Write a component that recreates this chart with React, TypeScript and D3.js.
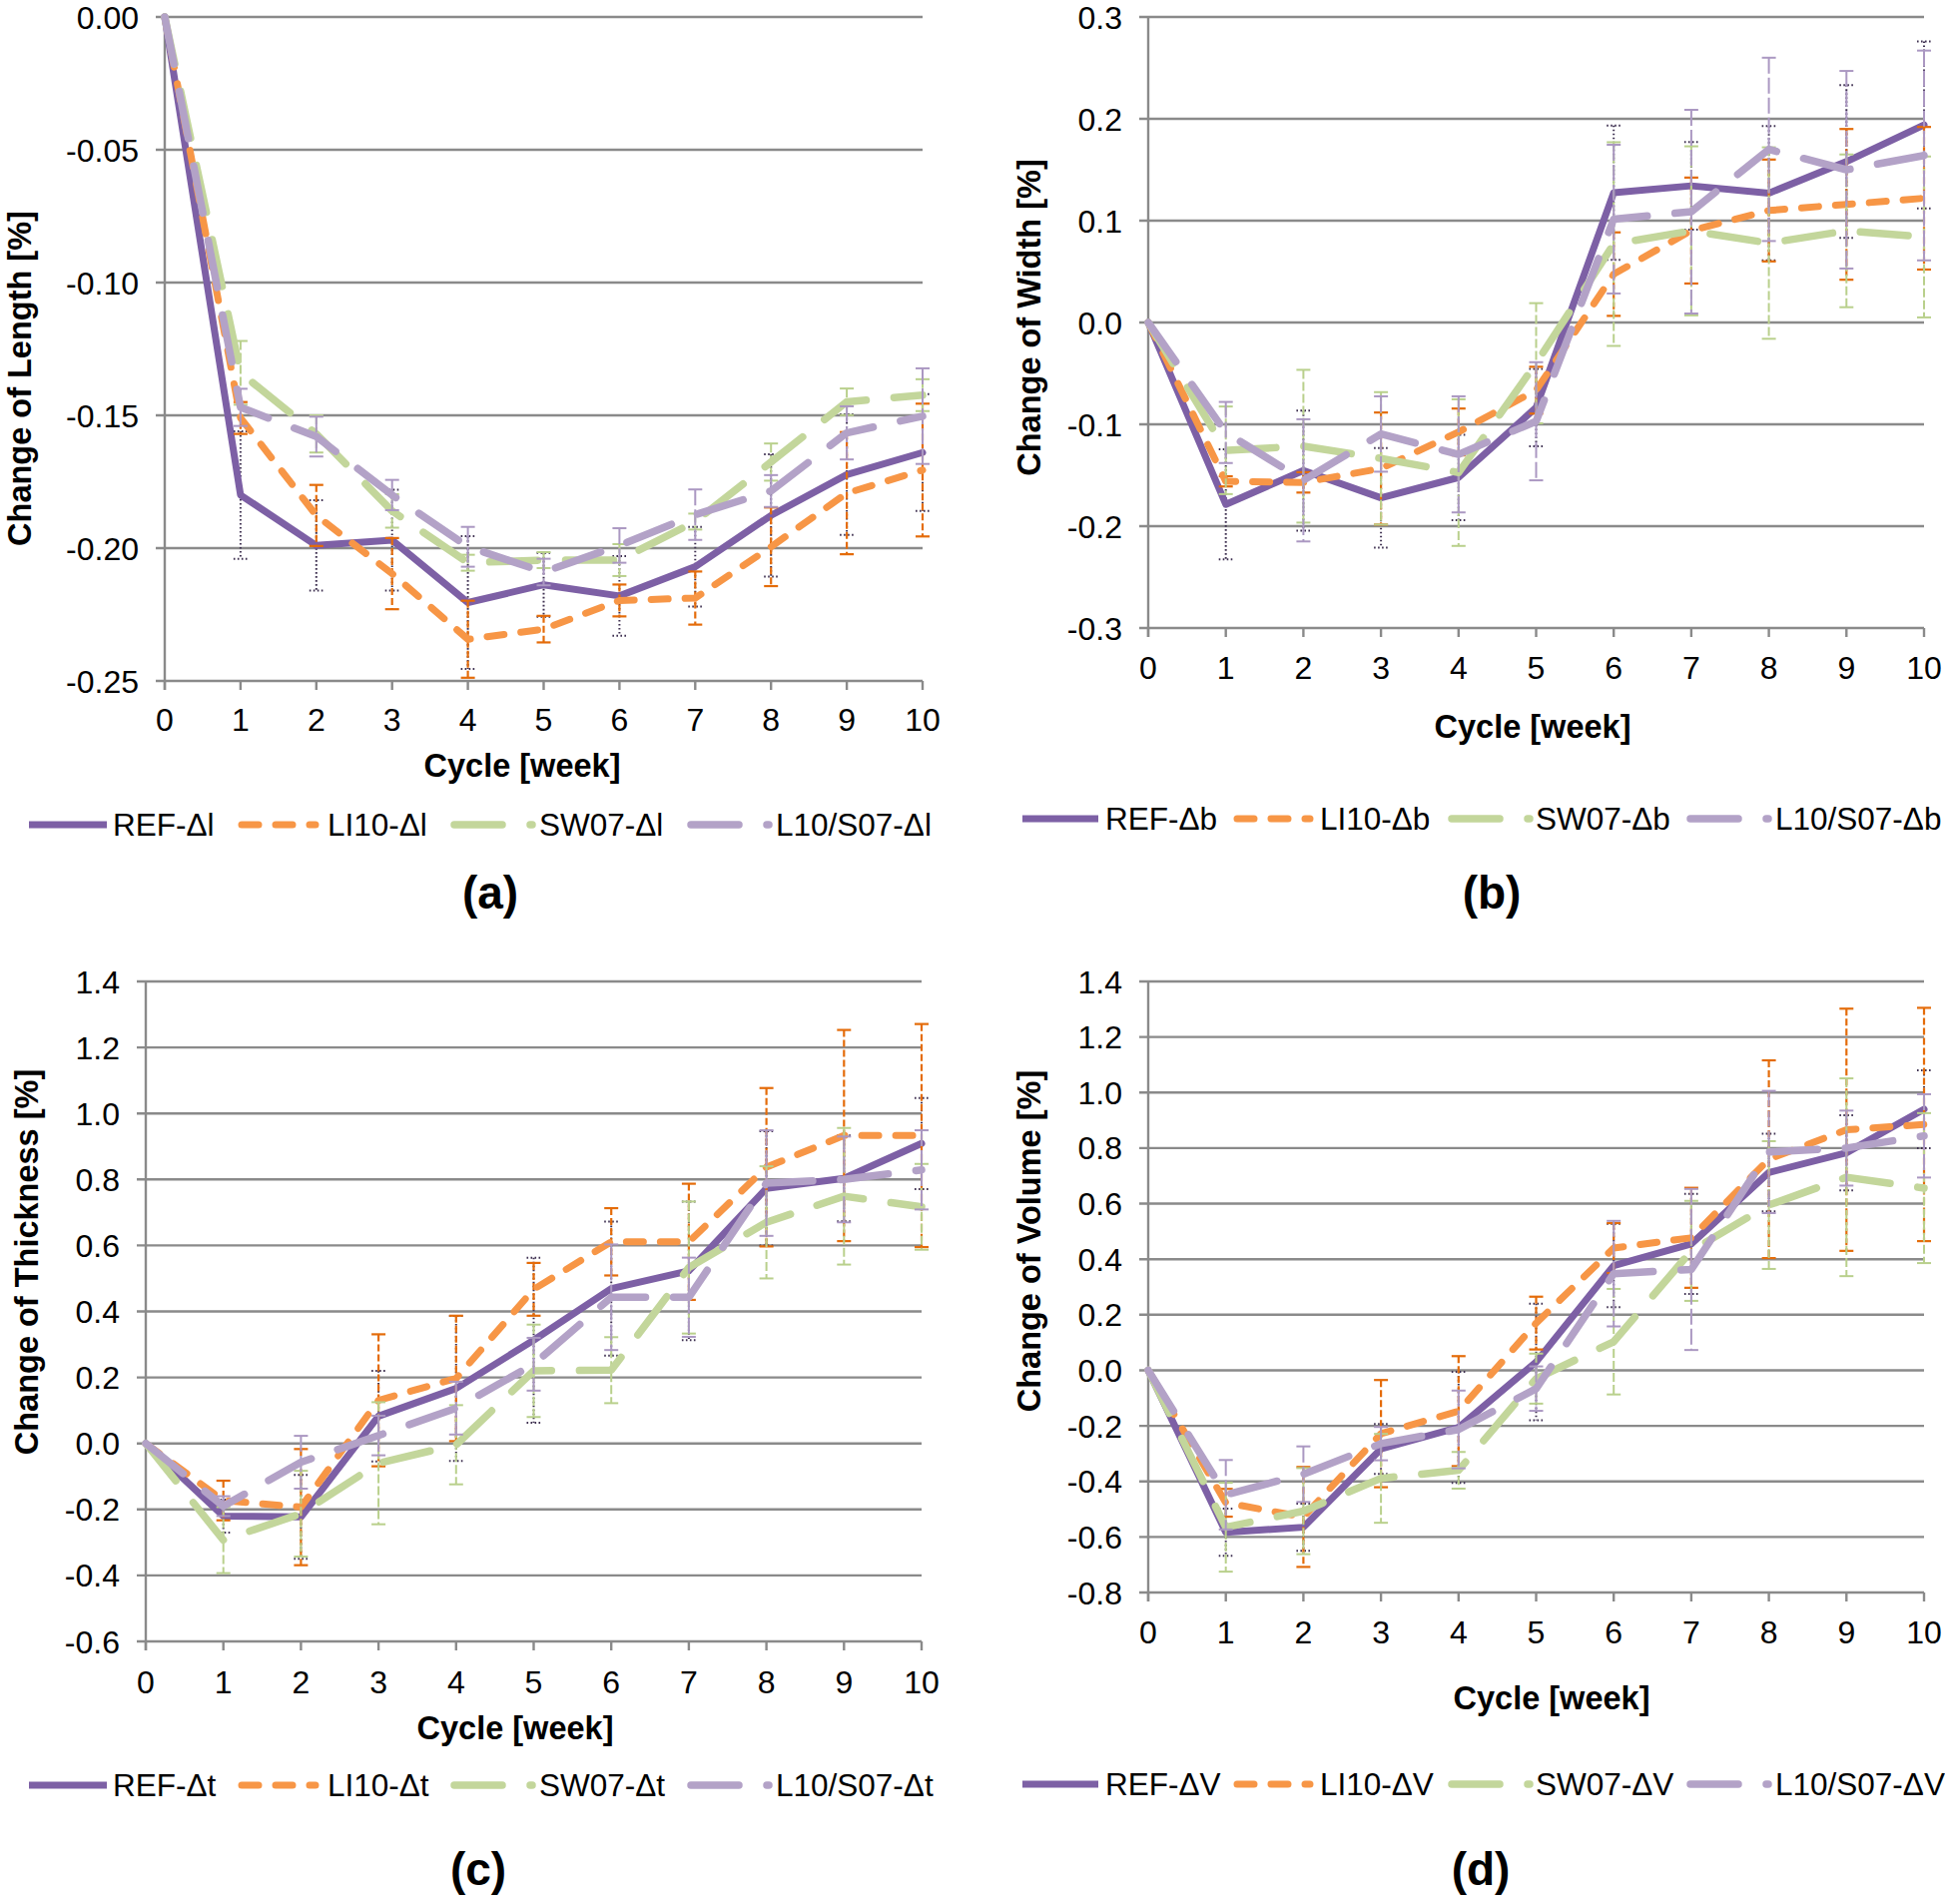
import React from 'react';
import * as d3 from 'd3';

// ---------------- DATA ----------------
const CYCLES = [0, 1, 2, 3, 4, 5, 6, 7, 8, 9, 10];
const SERIES = ['REF', 'LI10', 'SW07', 'L10/S07'];

// (a) Change of Length [%]
const LEN_REF = [0, -0.180, -0.199, -0.197, -0.2205, -0.2138, -0.218, -0.207, -0.1877, -0.1723, -0.164];
const LEN_LI10 = [0, -0.151, -0.1877, -0.2096, -0.2343, -0.2305, -0.2197, -0.2188, -0.1995, -0.1793, -0.1706];
const LEN_SW07 = [0, -0.134, -0.157, -0.186, -0.2055, -0.2045, -0.2045, -0.190, -0.1676, -0.1449, -0.1424];
const LEN_L10S07 = [0, -0.147, -0.158, -0.180, -0.1995, -0.209, -0.199, -0.1874, -0.1785, -0.1566, -0.1503];
const LEN_REF_ERR = [0, 0.024, 0.017, 0.019, 0.025, 0.012, 0.015, 0.015, 0.023, 0.0227, 0.022];
const LEN_LI10_ERR = [0, 0.006, 0.0115, 0.0134, 0.0145, 0.005, 0.006, 0.010, 0.0148, 0.023, 0.025];
const LEN_SW07_ERR = [0, 0.012, 0.007, 0.0063, 0.003, 0.003, 0.006, 0.003, 0.007, 0.005, 0.006];
const LEN_L10S07_ERR = [0, 0.007, 0.0075, 0.0057, 0.0075, 0.005, 0.0065, 0.0095, 0.006, 0.010, 0.018];
const LEN_TICKS = [0, -0.05, -0.1, -0.15, -0.2, -0.25];

// (b) Change of Width [%]
const WID_REF = [0, -0.1786, -0.1454, -0.1722, -0.1522, -0.0835, 0.1274, 0.1342, 0.127, 0.158, 0.194];
const WID_LI10 = [0, -0.156, -0.157, -0.1434, -0.1075, -0.0665, 0.0475, 0.0903, 0.110, 0.116, 0.122];
const WID_SW07 = [0, -0.1255, -0.1215, -0.1334, -0.1474, -0.040, 0.077, 0.090, 0.078, 0.090, 0.084];
const WID_L10S07 = [0, -0.108, -0.155, -0.1095, -0.1295, -0.097, 0.1015, 0.1088, 0.170, 0.150, 0.164];
const WID_REF_ERR = [0, 0.054, 0.059, 0.049, 0.042, 0.038, 0.066, 0.043, 0.066, 0.075, 0.082];
const WID_LI10_ERR = [0, 0.005, 0.01, 0.055, 0.023, 0.023, 0.041, 0.052, 0.05, 0.074, 0.07];
const WID_SW07_ERR = [0, 0.043, 0.075, 0.065, 0.072, 0.059, 0.10, 0.083, 0.094, 0.075, 0.079];
const WID_L10S07_ERR = [0, 0.03, 0.06, 0.037, 0.057, 0.058, 0.073, 0.10, 0.09, 0.097, 0.103];
const WID_TICKS = [0.3, 0.2, 0.1, 0, -0.1, -0.2, -0.3];

// (c) Change of Thickness [%]
const THK_REF = [0, -0.220, -0.2227, 0.0827, 0.1667, 0.313, 0.469, 0.523, 0.773, 0.803, 0.909];
const THK_LI10 = [0, -0.173, -0.193, 0.1307, 0.197, 0.467, 0.611, 0.611, 0.837, 0.933, 0.933];
const THK_SW07 = [0, -0.293, -0.213, -0.06, -0.004, 0.22, 0.222, 0.533, 0.67, 0.749, 0.717];
const THK_L10S07 = [0, -0.19, -0.057, 0.024, 0.107, 0.24, 0.443, 0.443, 0.789, 0.80, 0.829];
const THK_REF_ERR = [0, 0.05, 0.127, 0.137, 0.22, 0.25, 0.203, 0.21, 0.173, 0.13, 0.138];
const THK_LI10_ERR = [0, 0.06, 0.176, 0.2, 0.19, 0.08, 0.102, 0.176, 0.24, 0.32, 0.338];
const THK_SW07_ERR = [0, 0.1, 0.13, 0.185, 0.12, 0.14, 0.1, 0.2, 0.17, 0.207, 0.13];
const THK_L10S07_ERR = [0, 0.03, 0.08, 0.06, 0.08, 0.08, 0.16, 0.12, 0.16, 0.13, 0.12];
const THK_TICKS = [1.4, 1.2, 1.0, 0.8, 0.6, 0.4, 0.2, 0, -0.2, -0.4, -0.6];

// (d) Change of Volume [%]
const VOL_REF = [0, -0.583, -0.565, -0.283, -0.2056, 0.03, 0.377, 0.455, 0.712, 0.783, 0.94];
const VOL_LI10 = [0, -0.477, -0.528, -0.228, -0.147, 0.17, 0.44, 0.477, 0.76, 0.866, 0.885];
const VOL_SW07 = [0, -0.565, -0.507, -0.389, -0.36, -0.03, 0.103, 0.43, 0.595, 0.695, 0.656];
const VOL_L10S07 = [0, -0.448, -0.374, -0.264, -0.213, -0.066, 0.348, 0.363, 0.786, 0.80, 0.844];
const VOL_REF_ERR = [0, 0.085, 0.085, 0.09, 0.2, 0.21, 0.15, 0.18, 0.14, 0.135, 0.14];
const VOL_LI10_ERR = [0, 0.05, 0.18, 0.193, 0.198, 0.095, 0.09, 0.18, 0.356, 0.436, 0.42];
const VOL_SW07_ERR = [0, 0.16, 0.155, 0.16, 0.066, 0.09, 0.19, 0.18, 0.23, 0.356, 0.27];
const VOL_L10S07_ERR = [0, 0.125, 0.1, 0.06, 0.14, 0.08, 0.19, 0.29, 0.22, 0.135, 0.15];
const VOL_TICKS = [1.4, 1.2, 1.0, 0.8, 0.6, 0.4, 0.2, 0, -0.2, -0.4, -0.6, -0.8];

// ---------------- STYLES ----------------
const FONT = '"Liberation Sans", Arial, Helvetica, sans-serif';
const GRID = '#8a8a8a';

const STYLES = [
  { stroke: '#7d60a5', width: 7, dash: undefined as string | undefined, cap: 'round',
    err: '#3f3151', errW: 2, errDash: '1.6,2.4' },
  { stroke: '#f79646', width: 7, dash: '17,17', cap: 'round',
    err: '#e46c0a', errW: 2.2, errDash: '7,3' },
  { stroke: '#c3d69b', width: 7.5, dash: '48,28', cap: 'round',
    err: '#b9d08c', errW: 2, errDash: '9,3' },
  { stroke: '#b3a2c7', width: 7.5, dash: '48,28', cap: 'round',
    err: '#ab98c2', errW: 2, errDash: '16,4' },
];

type PanelProps = {
  box: { left: number; right: number; top: number; bottom: number };
  yDomain: [number, number];
  yTicks: number[];
  decimals: number;
  yTitle: string;
  yTitlePos: [number, number];
  xTitlePos: [number, number];
  tickLabelY: number;
  legendY: number;
  legendItems: { l0: number; l1: number; t: number }[];
  suffix: string;
  label: string;
  labelPos: [number, number];
  values: number[][];
  errors: number[][];
};

function Panel(p: PanelProps) {
  const x = d3.scaleLinear().domain([0, 10]).range([p.box.left, p.box.right]);
  const y = d3.scaleLinear().domain(p.yDomain).range([p.box.bottom, p.box.top]);
  const fmt = (v: number) => d3.format(`.${p.decimals}f`)(v).replace('\u2212', '-');
  const lineGen = d3
    .line<number>()
    .x((_, i) => x(CYCLES[i]))
    .y((d) => y(d));
  const capHalf = 7;

  return (
    <g>
      {p.yTicks.map((t) => (
        <g key={'g' + t}>
          <line x1={p.box.left - 9} x2={p.box.right} y1={y(t)} y2={y(t)} stroke={GRID} strokeWidth={2.4} />
          <text x={p.box.left - 26} y={y(t)} dy="0.36em" textAnchor="end" fontSize={32} fontFamily={FONT} fill="#000">
            {fmt(t)}
          </text>
        </g>
      ))}
      <line x1={p.box.left} x2={p.box.left} y1={p.box.top} y2={p.box.bottom + 9} stroke={GRID} strokeWidth={2.4} />
      {CYCLES.map((c) => (
        <g key={'x' + c}>
          <line x1={x(c)} x2={x(c)} y1={p.box.bottom} y2={p.box.bottom + 9} stroke={GRID} strokeWidth={2.4} />
          <text x={x(c)} y={p.tickLabelY} dy="0.36em" textAnchor="middle" fontSize={32} fontFamily={FONT} fill="#000">
            {c}
          </text>
        </g>
      ))}
      {p.values.map((vals, si) => {
        const st = STYLES[si];
        const errs = p.errors[si];
        return (
          <g key={'s' + si}>
            {vals.map((v, i) => {
              const e = errs[i];
              if (!e) return null;
              const cx = x(CYCLES[i]);
              const y0 = y(v + e);
              const y1 = y(v - e);
              return (
                <g key={'e' + i} stroke={st.err} strokeWidth={st.errW}>
                  <line x1={cx} x2={cx} y1={y0} y2={y1} strokeDasharray={st.errDash} />
                  <line x1={cx - capHalf} x2={cx + capHalf} y1={y0} y2={y0} strokeDasharray={si === 0 ? st.errDash : undefined} />
                  <line x1={cx - capHalf} x2={cx + capHalf} y1={y1} y2={y1} strokeDasharray={si === 0 ? st.errDash : undefined} />
                </g>
              );
            })}
            <path
              d={lineGen(vals) || ''}
              fill="none"
              stroke={st.stroke}
              strokeWidth={st.width}
              strokeDasharray={st.dash}
              strokeLinecap={st.cap as any}
              strokeLinejoin="round"
            />
          </g>
        );
      })}
      <text
        x={p.xTitlePos[0]}
        y={p.xTitlePos[1]}
        dy="0.36em"
        textAnchor="middle"
        fontSize={32.5}
        fontWeight="bold"
        fontFamily={FONT}
        fill="#000"
      >
        Cycle [week]
      </text>
      <text
        transform={`translate(${p.yTitlePos[0]},${p.yTitlePos[1]}) rotate(-90)`}
        dy="0.36em"
        textAnchor="middle"
        fontSize={32.5}
        fontWeight="bold"
        fontFamily={FONT}
        fill="#000"
      >
        {p.yTitle}
      </text>
      {p.legendItems.map((it, si) => {
        const st = STYLES[si];
        return (
          <g key={'l' + si}>
            <line
              x1={it.l0}
              x2={it.l1}
              y1={p.legendY}
              y2={p.legendY}
              stroke={st.stroke}
              strokeWidth={st.width}
              strokeDasharray={st.dash}
              strokeLinecap={(si === 0 ? 'butt' : 'round') as any}
            />
            <text x={it.t} y={p.legendY} dy="0.36em" fontSize={31.5} fontFamily={FONT} fill="#000">
              {SERIES[si] + '-\u0394' + p.suffix}
            </text>
          </g>
        );
      })}
      <text
        x={p.labelPos[0]}
        y={p.labelPos[1]}
        dy="0.34em"
        textAnchor="middle"
        fontSize={46}
        fontWeight="bold"
        fontFamily={FONT}
        fill="#000"
      >
        {p.label}
      </text>
    </g>
  );
}

const LEG_LEFT = [
  { l0: 29, l1: 107, t: 113 },
  { l0: 242, l1: 316, t: 328 },
  { l0: 455, l1: 533, t: 540 },
  { l0: 692, l1: 770, t: 777 },
];
const LEG_RIGHT = [
  { l0: 1024, l1: 1100, t: 1107 },
  { l0: 1239, l1: 1312, t: 1322 },
  { l0: 1454, l1: 1532, t: 1538 },
  { l0: 1693, l1: 1771, t: 1778 },
];

export default function App() {
  return (
    <svg
      width={1948}
      height={1907}
      viewBox="0 0 1948 1907"
      style={{ position: 'absolute', left: 0, top: 0, background: '#fff' }}
    >
      <rect x={0} y={0} width={1948} height={1907} fill="#fff" />
      <Panel
        box={{ left: 165, right: 924, top: 17, bottom: 682 }}
        yDomain={[-0.25, 0]}
        yTicks={LEN_TICKS}
        decimals={2}
        yTitle="Change of Length [%]"
        yTitlePos={[19, 379]}
        xTitlePos={[523, 766]}
        tickLabelY={720}
        legendY={826}
        legendItems={LEG_LEFT}
        suffix="l"
        label="(a)"
        labelPos={[491, 894]}
        values={[LEN_REF, LEN_LI10, LEN_SW07, LEN_L10S07]}
        errors={[LEN_REF_ERR, LEN_LI10_ERR, LEN_SW07_ERR, LEN_L10S07_ERR]}
      />
      <Panel
        box={{ left: 1150, right: 1927, top: 17, bottom: 629 }}
        yDomain={[-0.3, 0.3]}
        yTicks={WID_TICKS}
        decimals={1}
        yTitle="Change of Width [%]"
        yTitlePos={[1030, 318]}
        xTitlePos={[1535, 727]}
        tickLabelY={668}
        legendY={820}
        legendItems={LEG_RIGHT}
        suffix="b"
        label="(b)"
        labelPos={[1494, 894]}
        values={[WID_REF, WID_LI10, WID_SW07, WID_L10S07]}
        errors={[WID_REF_ERR, WID_LI10_ERR, WID_SW07_ERR, WID_L10S07_ERR]}
      />
      <Panel
        box={{ left: 146, right: 923, top: 983, bottom: 1644 }}
        yDomain={[-0.6, 1.4]}
        yTicks={THK_TICKS}
        decimals={1}
        yTitle="Change of Thickness [%]"
        yTitlePos={[26, 1264]}
        xTitlePos={[516, 1730]}
        tickLabelY={1684}
        legendY={1788}
        legendItems={LEG_LEFT}
        suffix="t"
        label="(c)"
        labelPos={[479, 1872]}
        values={[THK_REF, THK_LI10, THK_SW07, THK_L10S07]}
        errors={[THK_REF_ERR, THK_LI10_ERR, THK_SW07_ERR, THK_L10S07_ERR]}
      />
      <Panel
        box={{ left: 1150, right: 1927, top: 983, bottom: 1595 }}
        yDomain={[-0.8, 1.4]}
        yTicks={VOL_TICKS}
        decimals={1}
        yTitle="Change of Volume [%]"
        yTitlePos={[1030, 1243]}
        xTitlePos={[1554, 1700]}
        tickLabelY={1634}
        legendY={1787}
        legendItems={LEG_RIGHT}
        suffix="V"
        label="(d)"
        labelPos={[1483, 1872]}
        values={[VOL_REF, VOL_LI10, VOL_SW07, VOL_L10S07]}
        errors={[VOL_REF_ERR, VOL_LI10_ERR, VOL_SW07_ERR, VOL_L10S07_ERR]}
      />
    </svg>
  );
}
